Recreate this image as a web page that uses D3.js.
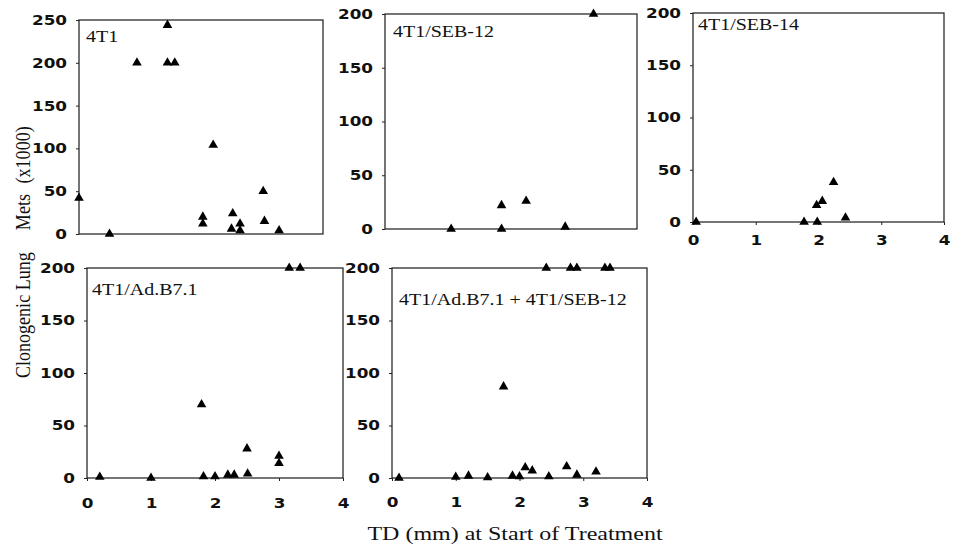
<!DOCTYPE html>
<html>
<head>
<meta charset="utf-8">
<script src="https://cdn.jsdelivr.net/npm/d3@7"></script>
<style>
  body { margin: 0; background: #fff; }
  svg { display: block; }
</style>
</head>
<body>
<svg id="chart" width="956" height="545"></svg>
<script>
// Values: TD (mm) vs clonogenic lung mets (x1000)
var xTicks = [0, 1, 2, 3, 4];
var yTicks250 = [0, 50, 100, 150, 200, 250];
var yTicks200 = [0, 50, 100, 150, 200];

var td4T1   = [0, 0.5, 0.95, 1.45, 1.45, 1.57, 2.2, 2.03, 2.03, 2.52, 2.5, 2.64, 2.64, 3.02, 3.04, 3.28];
var mets4T1 = [42, 0, 200, 244, 200, 200, 104, 20, 12, 24, 6, 12, 4, 50, 15, 4];

var tdSeb12   = [1.05, 1.85, 1.85, 2.24, 2.86, 3.31];
var metsSeb12 = [0, 0, 22, 26, 2, 200];

var tdSeb14   = [0.05, 1.77, 1.98, 1.97, 2.06, 2.24, 2.43];
var metsSeb14 = [0, 0, 0, 16, 20, 38, 4];

var tdB71   = [0.2, 1.0, 1.79, 1.82, 2.0, 2.2, 2.3, 2.51, 2.5, 3.0, 3.0, 3.16, 3.33];
var metsB71 = [1, 0, 70, 1.5, 1.5, 3, 3, 4, 28, 21, 14, 200, 200];

var tdCombo   = [0.11, 1.0, 1.2, 1.5, 1.89, 2.0, 2.09, 2.2, 2.46, 2.74, 2.9, 3.2, 1.75, 2.42, 2.8, 2.9, 3.34, 3.42];
var metsCombo = [0, 1, 2, 0.5, 2, 1.5, 10, 7, 1.5, 11, 3, 6, 87, 200, 200, 200, 200, 200];

var squash = 0.82; // the scan is flattened vertically, text looks wide

// panel layout (pixel boxes)
var panels = [
  { name: '4T1',                      td: td4T1,   mets: mets4T1,   yMax: 250, yTicks: yTicks250,
    xr: [79, 323],  yr: [234, 20],  xLabels: false, lab: [7, 22] },
  { name: '4T1/SEB-12',               td: tdSeb12, mets: metsSeb12, yMax: 200, yTicks: yTicks200,
    xr: [385, 637], yr: [229, 14],  xLabels: false, lab: [8, 23] },
  { name: '4T1/SEB-14',               td: tdSeb14, mets: metsSeb14, yMax: 200, yTicks: yTicks200,
    xr: [693, 944], yr: [222, 13],  xLabels: true,  lab: [5, 17], gap: 23 },
  { name: '4T1/Ad.B7.1',              td: tdB71,   mets: metsB71,   yMax: 200, yTicks: yTicks200,
    xr: [87, 343],  yr: [478, 268], xLabels: true,  lab: [5, 27], gap: 30 },
  { name: '4T1/Ad.B7.1 + 4T1/SEB-12', td: tdCombo, mets: metsCombo, yMax: 200, yTicks: yTicks200,
    xr: [392, 647], yr: [478, 268], xLabels: true,  lab: [7, 37], gap: 29 }
];

var svg = d3.select('#chart');
var tri = d3.symbol().type(d3.symbolTriangle).size(40)();
var fmt = d3.format('d');

var styleTicks = function (axisG) {
  axisG.attr('font-family', '"DejaVu Sans", Verdana, sans-serif')
       .attr('font-size', 16.8)
       .attr('font-weight', 'bold');
  axisG.select('.domain').remove();
  axisG.selectAll('line').attr('stroke', '#222');
  axisG.selectAll('text').attr('fill', '#111');
};

panels.forEach(function (p) {
  let x = d3.scaleLinear().domain([0, 4]).range(p.xr);
  let y = d3.scaleLinear().domain([0, p.yMax]).range(p.yr);
  let g = svg.append('g');

  // frame
  g.append('rect')
    .attr('x', p.xr[0]).attr('y', p.yr[1])
    .attr('width', p.xr[1] - p.xr[0]).attr('height', p.yr[0] - p.yr[1])
    .attr('fill', 'none').attr('stroke', '#1a1a1a').attr('stroke-width', 1.2);

  // y axis
  let ya = g.append('g')
    .attr('transform', `translate(${p.xr[0]},0)`)
    .call(d3.axisLeft(y).tickValues(p.yTicks).tickFormat(fmt).tickSize(3).tickPadding(9));
  styleTicks(ya);
  ya.selectAll('text').attr('transform', `scale(1,${squash})`);

  // x axis only where the scan shows labels
  if (p.xLabels) {
    let xa = g.append('g')
      .attr('transform', `translate(0,${p.yr[0]})`)
      .call(d3.axisBottom(x).tickValues(xTicks).tickFormat(fmt).tickSize(3));
    styleTicks(xa);
    xa.selectAll('text')
      .attr('dy', null)
      .attr('y', p.gap / squash)
      .attr('transform', `scale(1,${squash})`);
  }

  // panel name
  g.append('text')
    .attr('transform', `translate(${p.xr[0] + p.lab[0]},${p.yr[1] + p.lab[1]}) scale(1,${squash})`)
    .attr('font-family', '"Liberation Serif", "Times New Roman", serif')
    .attr('font-size', 20)
    .attr('fill', '#111')
    .text(p.name);

  // points
  g.selectAll('path.pt')
    .data(d3.zip(p.td, p.mets))
    .join('path')
    .attr('class', 'pt')
    .attr('d', tri)
    .attr('fill', '#000')
    .attr('transform', d => `translate(${x(d[0])},${y(d[1])})`);
});

// shared y title, with the wide gaps of the original
var yTitle = svg.append('text')
  .attr('transform', `translate(30,378) scale(1,${squash}) rotate(-90)`)
  .attr('font-family', '"Liberation Serif", "Times New Roman", serif')
  .attr('font-size', 22)
  .attr('fill', '#111');
yTitle.append('tspan').text('Clonogenic Lung');
yTitle.append('tspan').attr('dx', 27).text('Mets');
yTitle.append('tspan').attr('dx', 13).text('(x1000)');

// shared x title
svg.append('text')
  .attr('transform', `translate(515,540) scale(1,${squash})`)
  .attr('text-anchor', 'middle')
  .attr('font-family', '"Liberation Serif", "Times New Roman", serif')
  .attr('font-size', 24)
  .attr('fill', '#111')
  .text('TD (mm) at Start of Treatment');
</script>
</body>
</html>
